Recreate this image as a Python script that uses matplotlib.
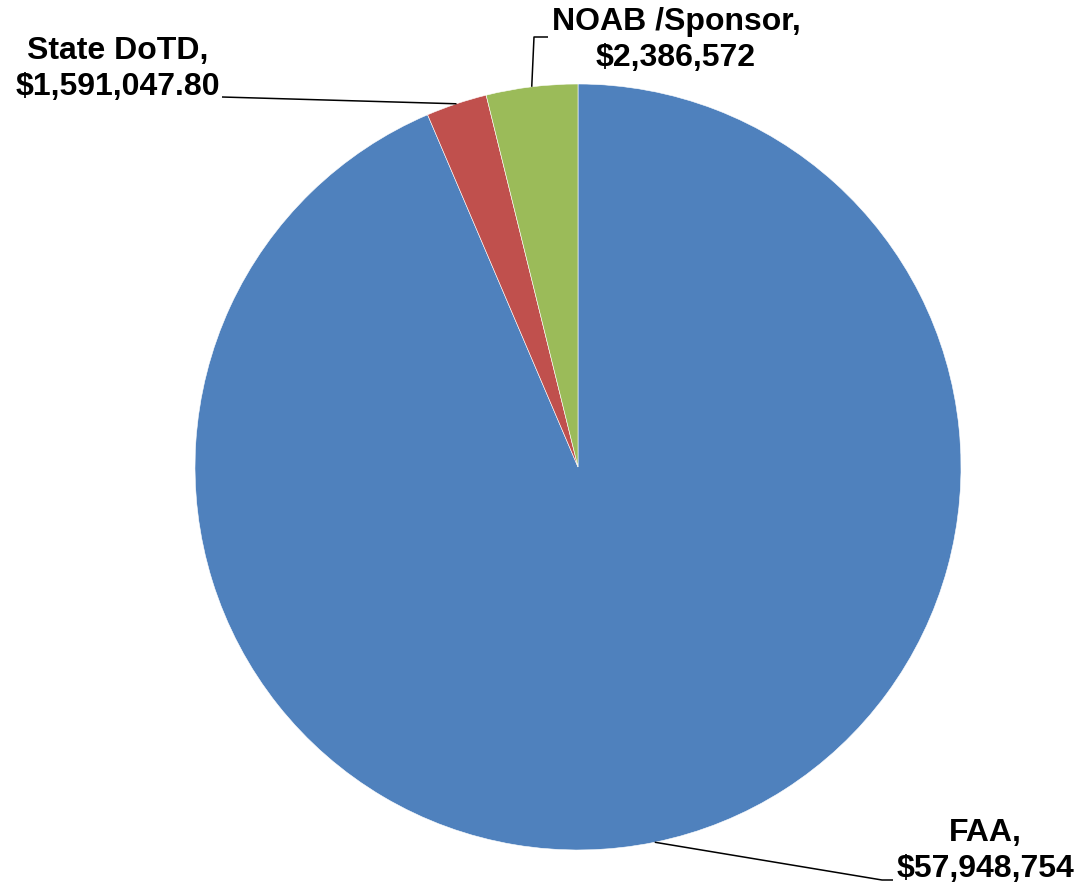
import numpy as np
import matplotlib.pyplot as plt

plt.rcParams['font.family'] = ['Liberation Sans', 'DejaVu Sans']

labels = ['FAA', 'State DoTD', 'NOAB /Sponsor']
values = [57948754, 1591047.80, 2386572]
value_text = ['$57,948,754', '$1,591,047.80', '$2,386,572']
colors = ['#4F81BD', '#C0504D', '#9BBB59']

W, H = 1081, 890
cx, cy, R = 578, H - 467, 383

fig = plt.figure(figsize=(W / 100, H / 100), dpi=100)
ax = fig.add_axes([0, 0, 1, 1])

wedges, _ = ax.pie(values, colors=colors, startangle=90, counterclock=False,
                   center=(cx, cy), radius=R, frame=True,
                   wedgeprops=dict(linewidth=0.4, edgecolor='white'))
ax.set_xlim(0, W)
ax.set_ylim(0, H)
ax.set_aspect('equal')
ax.axis('off')

# label text centres (pixel coords from top) and leader elbows
label_pos = [(985, 851), (118, 69), (676, 40)]
elbows = [[(882, 880), (893, 880)],
          [(222, 97)],
          [(534, 37), (548, 37)]]

for w, lab, vt, (tx, ty), elb in zip(wedges, labels, value_text, label_pos, elbows):
    mid = np.deg2rad((w.theta1 + w.theta2) / 2)
    x0 = cx + R * np.cos(mid)
    y0 = cy + R * np.sin(mid)
    xs = [x0] + [p[0] for p in elb]
    ys = [y0] + [H - p[1] for p in elb]
    ax.plot(xs, ys, color='black', lw=1.1, solid_capstyle='butt')
    ax.text(tx, H - ty, lab + ',\n' + vt, ha='center', va='center',
            fontsize=23, fontweight='bold', linespacing=1.25)

fig.savefig('out.png', dpi=100)
